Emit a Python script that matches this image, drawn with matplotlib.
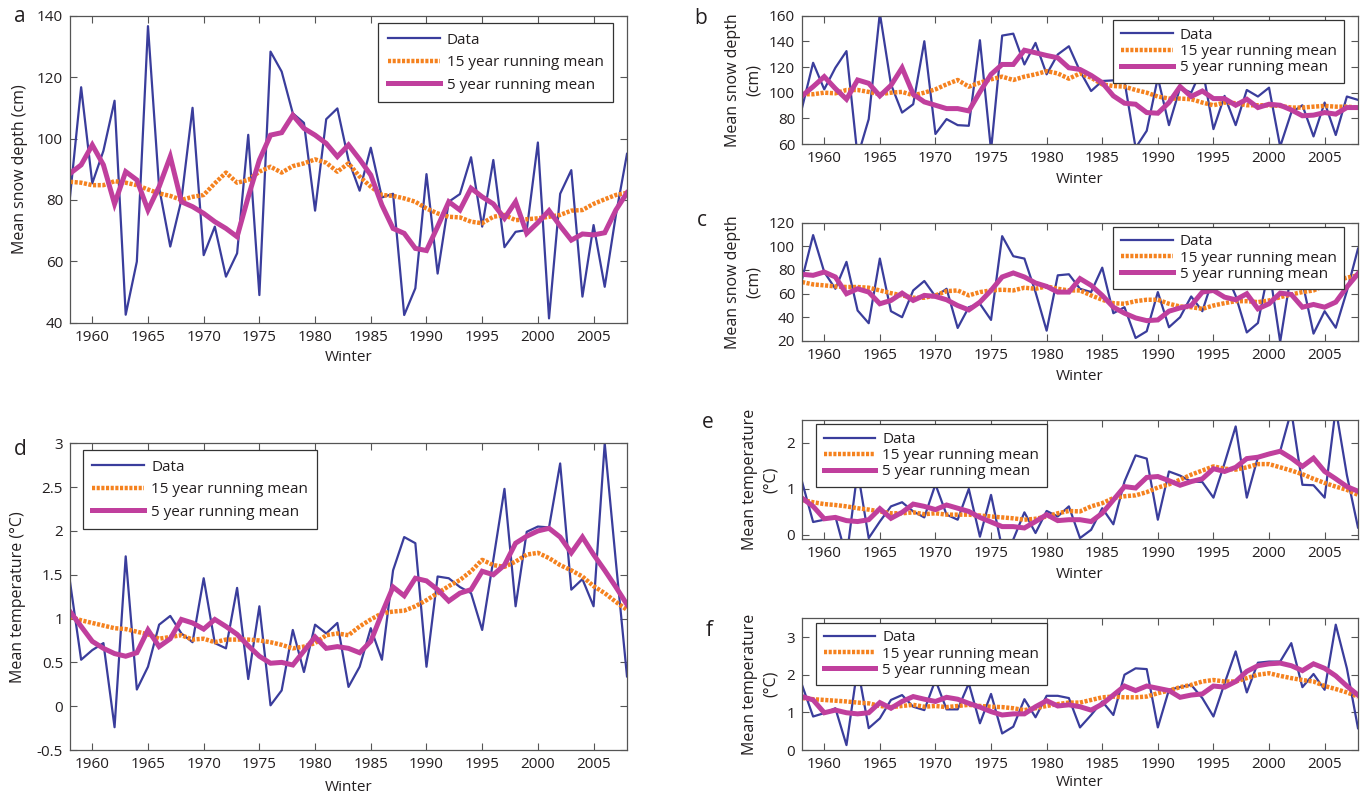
import matplotlib.pyplot as plt
import numpy as np

plt.rcParams['font.family'] = ['Open Sans', 'DejaVu Sans']

# Winters 1958-2008
years = np.arange(1958, 2009)

# a: mean snow depth (cm)
a_data = [81, 116.7, 85.4, 96, 112.3, 42.6, 59.9, 136.6, 84, 64.8,
          80, 110, 62, 71.3, 55, 62.6, 101.2, 49, 128.3, 121.8,
          108.2, 105.1, 76.5, 106.3, 109.8, 93, 83, 97, 80.8, 82,
          42.5, 51.2, 88.4, 56, 79.4, 81.9, 93.9, 71.3, 93, 64.6,
          69.6, 70.2, 98.7, 41.4, 82, 89.7, 48.5, 71.8, 51.7, 75,
          95]
a_15yr = [85.9, 85.6, 84.8, 84.8, 86.1, 85.6, 84.8, 83.4, 82.1, 81.3,
          80, 81, 81.6, 85.4, 88.9, 85.6, 86.5, 89.2, 90.8, 88.9,
          91, 91.9, 93.2, 92.1, 89.2, 91.9, 87.6, 84.3, 81.6, 81.3,
          80.5, 79.4, 77.2, 75.6, 74.5, 74.3, 72.9, 72.4, 74.5, 75.1,
          73.4, 73.7, 74, 74.5, 75.1, 76.5, 76.7, 78.7, 80.2, 81.6,
          82.3]
a_5yr = [88.6, 91.4, 97.9, 91.4, 78.7, 89.2, 86.5, 76.7, 84.3, 94.1,
         79.4, 77.8, 75.6, 72.9, 70.7, 68, 81, 93, 101.1, 101.9,
         107.6, 103.3, 101.1, 98.4, 94.1, 97.9, 93.2, 88.1, 78.3, 70.7,
         69.1, 64.2, 63.5, 71.3, 79.4, 76.7, 83.8, 81, 78.7, 74,
         79.4, 69.1, 72.6, 76.5, 71.5, 66.9, 68.9, 68.6, 69.3, 76.7,
         82.3]

# b: mean snow depth (cm)
b_data = [88, 123.3, 102.6, 119.4, 132.4, 50, 79.4, 162, 106.5, 84.5,
          91, 140.1, 67.8, 79.4, 74.7, 74.2, 140.9, 55, 144.5, 146,
          122, 138.8, 114.3, 129.8, 136.2, 116.8, 101.3, 109.1, 109.6, 109.1,
          57, 70.3, 111.7, 74.7, 103.9, 100, 119.4, 71.6, 97.5, 74.7,
          102.1, 97, 103.9, 58, 84.5, 90.2, 65.9, 92.3, 67, 97,
          94.4]
b_15yr = [98.8, 98.8, 100, 99.5, 102.1, 102.1, 100.6, 98.8, 100, 100.6,
          98, 100, 102.6, 106.5, 109.9, 104.7, 107.8, 110.4, 112.5, 109.9,
          112.5, 114.3, 116.8, 115, 110.9, 115, 111.7, 106.5, 105.2, 104.7,
          102.1, 100, 97, 95.4, 95.4, 94.9, 92.3, 90.2, 92.3, 91.8,
          90.2, 90.2, 90.2, 89.7, 88.4, 88.4, 89.1, 89.7, 89.1, 89.1,
          88.4]
b_5yr = [97.5, 104.7, 112.5, 103.2, 94.9, 109.9, 107.3, 97.5, 105.7, 119.4,
         98.8, 92.8, 90.2, 87.6, 87.6, 85.8, 100.6, 114.3, 122, 122,
         133.1, 131.1, 129, 127.2, 119.4, 118.1, 113.5, 107.8, 97.5, 91.8,
         91, 84.5, 84, 92.3, 104.7, 97, 101.3, 95.4, 95.4, 90.2,
         94.9, 88.4, 91, 90.2, 86.6, 82, 82.5, 84.5, 83.3, 88.4,
         88.4]

# c: mean snow depth (cm)
c_data = [72, 109.5, 78.2, 64, 86.8, 45.6, 34.8, 89.6, 45, 39.9,
          62.6, 70.6, 57.5, 64, 30.8, 48.4, 51.3, 37.6, 108.6, 91.6,
          89.6, 61.2, 28.5, 75.4, 76.3, 64, 61.2, 81.9, 43.3, 48.4,
          22.3, 28, 61.2, 31.4, 39.9, 57.5, 45, 74, 80, 58,
          27, 35, 82, 19, 78, 70, 26, 45, 31, 62,
          98]
c_15yr = [69.7, 67.7, 66.9, 66, 65.5, 65.5, 64.9, 62.6, 60.3, 58.4,
          56.4, 56.4, 58.4, 62, 62.6, 58.4, 61.2, 62.6, 63.2, 62.6,
          64.9, 64, 66, 64, 62.6, 62.6, 58.4, 54.7, 51.8, 51.3,
          53.5, 54.7, 54.7, 51.3, 49, 48.4, 47, 49.8, 51.8, 53.5,
          53.5, 52.7, 54.1, 56.9, 59.2, 61.2, 62.6, 66.9, 70.6, 73.4,
          75.4]
c_5yr = [76.3, 75.4, 78.2, 74, 59.8, 64, 61.2, 51.3, 54.1, 60.3,
         54.1, 58.4, 57.5, 54.7, 49.8, 46.1, 52.7, 62.6, 74, 77.4,
         74, 68.9, 66, 61.2, 61.2, 72.6, 66.9, 58.4, 48.4, 43.3,
         39.3, 37, 37.6, 45, 47.8, 49.8, 61.2, 62.6, 56.9, 54.7,
         59.8, 47, 51.3, 60.3, 59.2, 48.4, 50.7, 48.4, 52.7, 65.5,
         76.8]

# d: mean temperature (degC)
d_data = [1.42, 0.53, 0.64, 0.72, -0.24, 1.71, 0.19, 0.45, 0.93, 1.03,
          0.83, 0.73, 1.46, 0.72, 0.66, 1.35, 0.31, 1.14, 0.01, 0.18,
          0.87, 0.39, 0.93, 0.83, 0.95, 0.22, 0.45, 0.89, 0.53, 1.55,
          1.93, 1.86, 0.45, 1.48, 1.46, 1.36, 1.29, 0.87, 1.67, 2.48,
          1.14, 1.99, 2.05, 2.04, 2.77, 1.33, 1.45, 1.14, 3.0, 1.65,
          0.34]
d_15yr = [1.02, 0.98, 0.95, 0.92, 0.89, 0.88, 0.85, 0.82, 0.77, 0.79,
          0.81, 0.76, 0.77, 0.73, 0.76, 0.76, 0.76, 0.75, 0.73, 0.7,
          0.66, 0.68, 0.72, 0.81, 0.83, 0.81, 0.91, 0.99, 1.06, 1.08,
          1.09, 1.14, 1.21, 1.29, 1.37, 1.44, 1.54, 1.67, 1.61, 1.59,
          1.65, 1.73, 1.75, 1.69, 1.61, 1.55, 1.48, 1.37, 1.29, 1.19,
          1.1]
d_5yr = [1.08, 0.91, 0.74, 0.66, 0.6, 0.57, 0.61, 0.87, 0.68, 0.77,
         0.99, 0.95, 0.88, 0.99, 0.91, 0.82, 0.69, 0.57, 0.49, 0.5,
         0.47, 0.63, 0.79, 0.66, 0.68, 0.66, 0.61, 0.74, 1.06, 1.36,
         1.26, 1.46, 1.43, 1.33, 1.2, 1.29, 1.33, 1.54, 1.5, 1.61,
         1.86, 1.94, 2.0, 2.03, 1.93, 1.75, 1.93, 1.73, 1.55, 1.36,
         1.16]

# e: mean temperature (degC)
e_data = [1.16, 0.28, 0.33, 0.4, -0.5, 1.4, -0.07, 0.29, 0.62, 0.71,
          0.51, 0.38, 1.1, 0.44, 0.33, 1.0, -0.04, 0.87, -0.3, -0.1,
          0.49, 0.04, 0.52, 0.4, 0.62, -0.07, 0.11, 0.58, 0.23, 1.16,
          1.73, 1.66, 0.33, 1.38, 1.29, 1.16, 1.15, 0.81, 1.56, 2.36,
          0.81, 1.69, 1.78, 1.82, 2.7, 1.09, 1.08, 0.81, 2.75, 1.3,
          0.16]
e_15yr = [0.76, 0.71, 0.67, 0.65, 0.62, 0.58, 0.55, 0.51, 0.47, 0.47,
          0.49, 0.45, 0.47, 0.44, 0.44, 0.44, 0.42, 0.4, 0.38, 0.36,
          0.33, 0.35, 0.4, 0.47, 0.52, 0.51, 0.62, 0.69, 0.8, 0.84,
          0.86, 0.93, 1.03, 1.1, 1.2, 1.31, 1.4, 1.49, 1.44, 1.42,
          1.47, 1.54, 1.54, 1.47, 1.4, 1.32, 1.22, 1.13, 1.05, 0.98,
          0.87]
e_5yr = [0.8, 0.62, 0.35, 0.38, 0.31, 0.29, 0.33, 0.57, 0.36, 0.49,
         0.67, 0.62, 0.55, 0.65, 0.58, 0.51, 0.38, 0.28, 0.18, 0.18,
         0.15, 0.29, 0.44, 0.31, 0.33, 0.33, 0.29, 0.47, 0.76, 1.05,
         1.02, 1.25, 1.27, 1.18, 1.08, 1.16, 1.22, 1.44, 1.38, 1.47,
         1.66, 1.69, 1.76, 1.82, 1.67, 1.49, 1.67, 1.38, 1.22, 1.05,
         0.95]

# f: mean temperature (degC)
f_data = [1.73, 0.89, 0.98, 1.11, 0.13, 2.2, 0.58, 0.84, 1.33, 1.46,
          1.15, 1.06, 1.86, 1.08, 1.08, 1.77, 0.71, 1.49, 0.44, 0.62,
          1.35, 0.87, 1.44, 1.44, 1.38, 0.6, 0.93, 1.29, 0.93, 2.0,
          2.17, 2.15, 0.6, 1.6, 1.67, 1.73, 1.38, 0.89, 1.77, 2.62,
          1.53, 2.32, 2.35, 2.35, 2.84, 1.67, 2.02, 1.6, 3.33, 2.17,
          0.58]
f_15yr = [1.38, 1.35, 1.33, 1.31, 1.29, 1.26, 1.24, 1.17, 1.14, 1.17,
          1.2, 1.15, 1.17, 1.14, 1.17, 1.2, 1.17, 1.15, 1.14, 1.11,
          1.06, 1.11, 1.17, 1.22, 1.26, 1.26, 1.33, 1.4, 1.42, 1.4,
          1.4, 1.42, 1.51, 1.58, 1.67, 1.73, 1.82, 1.86, 1.82, 1.82,
          1.91, 2.0, 2.04, 1.97, 1.91, 1.86, 1.82, 1.7, 1.62, 1.53,
          1.42]
f_5yr = [1.42, 1.33, 0.99, 1.06, 0.99, 0.96, 0.99, 1.26, 1.11, 1.29,
         1.42, 1.35, 1.29, 1.4, 1.35, 1.24, 1.14, 1.02, 0.93, 0.96,
         0.96, 1.15, 1.31, 1.17, 1.2, 1.15, 1.06, 1.22, 1.46, 1.7,
         1.58, 1.7, 1.64, 1.58, 1.4, 1.46, 1.49, 1.7, 1.67, 1.82,
         2.09, 2.24, 2.29, 2.31, 2.24, 2.11, 2.29, 2.17, 1.97, 1.7,
         1.46]

xticks = [1960, 1965, 1970, 1975, 1980, 1985, 1990, 1995, 2000, 2005]
labels = ['Data', '15 year running mean', '5 year running mean']

BLUE = '#3a3d9c'
ORANGE = '#f5821f'
MAGENTA = '#c03f9d'
TXT = '#231f20'
FS = 11

W, H = 1369, 796
fig = plt.figure(figsize=(W / 100, H / 100), dpi=100)


def make_axes(left, top, right, bottom):
    # pixel box -> figure fraction
    return fig.add_axes([left / W, 1 - bottom / H, (right - left) / W, (bottom - top) / H])


def panel(ax, data, m15, m5, ylim, yticks, yticklabels, ylabel,
          leg_loc, leg_anchor, spacing, bpad, ylab_x, xlab_px, letter, letter_xy):
    ax.plot(years, data, color=BLUE, lw=1.6, label=labels[0])
    ax.plot(years, m15, color=ORANGE, lw=3.2, ls=(0, (0.7, 0.35)), label=labels[1])
    ax.plot(years, m5, color=MAGENTA, lw=3.6, solid_joinstyle='miter', label=labels[2])
    ax.set_xlim(1958, 2008)
    ax.set_ylim(*ylim)
    ax.set_xticks(xticks)
    ax.set_yticks(yticks)
    ax.set_yticklabels(yticklabels)
    ax.tick_params(direction='in', top=True, right=True, length=5, width=0.8,
                   labelsize=FS, labelcolor=TXT, color='#555555', pad=5)
    for s in ax.spines.values():
        s.set_color('#555555')
        s.set_linewidth(0.9)
    ax.set_ylabel(ylabel, fontsize=11.5, color=TXT, linespacing=1.4)
    ax.yaxis.set_label_coords(ylab_x, 0.5)
    h_px = ax.get_position().height * H
    ax.set_xlabel('Winter', fontsize=FS, color=TXT)
    ax.xaxis.set_label_coords(0.5, -xlab_px / h_px)
    leg = ax.legend(loc=leg_loc, bbox_to_anchor=leg_anchor, borderaxespad=0,
                    fontsize=FS, frameon=True, fancybox=False, framealpha=1,
                    edgecolor='#333333', handlelength=3.4, handletextpad=0.45,
                    labelspacing=spacing, borderpad=bpad)
    leg.get_frame().set_linewidth(0.9)
    for t in leg.get_texts():
        t.set_color(TXT)
    fig.text(letter_xy[0] / W, 1 - letter_xy[1] / H, letter, fontsize=15,
             color=TXT, ha='center', va='center')


ax_a = make_axes(70, 15.7, 627, 322.7)
panel(ax_a, a_data, a_15yr, a_5yr, (40, 140), range(40, 141, 20),
      [str(v) for v in range(40, 141, 20)], 'Mean snow depth (cm)',
      'upper right', (0.975, 0.976), 0.5, 0.62, -0.075, 27, 'a', (20, 17))

ax_d = make_axes(70, 443.3, 627, 750)
panel(ax_d, d_data, d_15yr, d_5yr, (-0.5, 3), [-0.5, 0, 0.5, 1, 1.5, 2, 2.5, 3],
      ['-0.5', '0', '0.5', '1', '1.5', '2', '2.5', '3'], 'Mean temperature (°C)',
      'upper left', (0.023, 0.978), 0.5, 0.62, -0.079, 30, 'd', (20, 450))

ax_b = make_axes(802, 15.7, 1358, 144)
panel(ax_b, b_data, b_15yr, b_5yr, (60, 160), range(60, 161, 20),
      [str(v) for v in range(60, 161, 20)], 'Mean snow depth\n(cm)',
      'upper right', (0.975, 0.966), 0.08, 0.5, -0.072, 28, 'b', (701, 19))

ax_c = make_axes(802, 222.7, 1358, 340.7)
panel(ax_c, c_data, c_15yr, c_5yr, (20, 120), range(20, 121, 20),
      [str(v) for v in range(20, 121, 20)], 'Mean snow depth\n(cm)',
      'upper right', (0.975, 0.966), 0.08, 0.5, -0.072, 28, 'c', (702, 221))

ax_e = make_axes(802, 420, 1358, 539)
panel(ax_e, e_data, e_15yr, e_5yr, (-0.09, 2.5), [0, 1, 2], ['0', '1', '2'],
      'Mean temperature\n(°C)', 'upper left', (0.025, 0.964), 0.08, 0.5, -0.042, 28,
      'e', (708, 423))

ax_f = make_axes(802, 618.3, 1358, 750)
panel(ax_f, f_data, f_15yr, f_5yr, (0, 3.5), [0, 1, 2, 3], ['0', '1', '2', '3'],
      'Mean temperature\n(°C)', 'upper left', (0.025, 0.967), 0.08, 0.5, -0.042, 25,
      'f', (709, 630))

fig.savefig('out.png', dpi=100)
